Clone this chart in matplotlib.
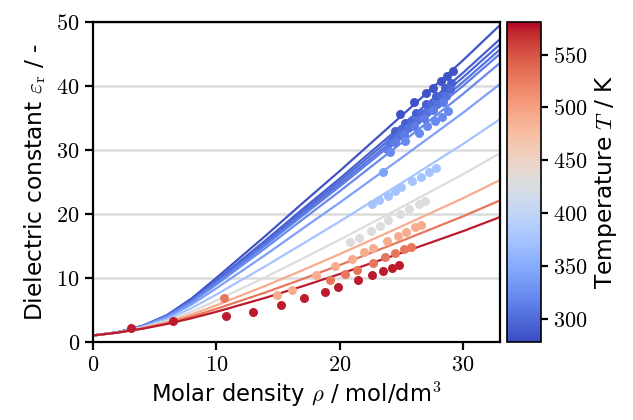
import numpy as np
import matplotlib
matplotlib.use("Agg")
import matplotlib.pyplot as plt
from matplotlib.colors import Normalize
from matplotlib.cm import ScalarMappable

plt.rcParams['mathtext.fontset'] = 'cm'
plt.rcParams['font.family'] = 'DejaVu Sans'

# isotherm temperatures (K)
TEMPS = [283, 290, 297, 305, 312, 322, 340, 375, 430, 490, 530, 575]

# model curves: eps_r at these molar densities
RHO_LINE = [0, 2, 4, 6, 8, 10, 12, 14, 17, 20, 25, 30, 33]
EPS_LINES = [
    [1, 1.50, 2.50, 4.20, 6.80, 10.00, 13.30, 16.60, 21.70, 26.70, 35.30, 44.00, 49.50],
    [1, 1.50, 2.47, 4.10, 6.57, 9.61, 12.75, 15.89, 20.75, 25.52, 33.74, 42.05, 47.31],
    [1, 1.50, 2.46, 4.06, 6.49, 9.47, 12.55, 15.63, 20.40, 25.09, 33.16, 41.33, 46.50],
    [1, 1.49, 2.44, 4.02, 6.41, 9.33, 12.35, 15.37, 20.05, 24.66, 32.58, 40.61, 45.69],
    [1, 1.49, 2.43, 3.99, 6.34, 9.20, 12.18, 15.15, 19.75, 24.29, 32.09, 40.00, 45.00],
    [1, 1.49, 2.41, 3.92, 6.19, 8.96, 11.82, 14.69, 19.14, 23.53, 31.08, 38.74, 43.59],
    [1, 1.48, 2.36, 3.77, 5.85, 8.37, 11.00, 13.62, 17.71, 21.76, 28.73, 35.80, 40.29],
    [1, 1.48, 2.28, 3.51, 5.28, 7.40, 9.63, 11.85, 15.33, 18.81, 24.81, 30.92, 34.80],
    [1, 1.47, 2.20, 3.27, 4.73, 6.46, 8.30, 10.13, 13.03, 15.96, 21.03, 26.19, 29.49],
    [1, 1.46, 2.14, 3.07, 4.30, 5.72, 7.25, 8.77, 11.21, 13.71, 18.03, 22.45, 25.29],
    [1, 1.45, 2.09, 2.92, 3.97, 5.16, 6.45, 7.74, 9.83, 12.00, 15.76, 19.62, 22.11],
    [1, 1.45, 2.05, 2.80, 3.70, 4.70, 5.80, 6.90, 8.70, 10.60, 13.90, 17.30, 19.50],
]

# measurements
RHO_PTS = [
    [24.9, 26.06, 26.98, 27.6, 28.2, 28.7, 29.2],
    [24.5, 25.3, 26.2, 27.0, 27.8, 28.5, 29.0],
    [24.2, 25.0, 25.8, 26.6, 27.4, 28.2, 28.9],
    [24.0, 24.7, 25.5, 26.3, 27.1, 27.9, 28.6],
    [23.8, 24.5, 25.2, 26.0, 26.8, 27.6, 28.4],
    [24.1, 25.3, 26.4, 27.1, 27.7, 28.3, 28.8],
    [23.5],
    [22.6, 23.2, 23.9, 24.5, 25.0, 25.9, 26.6, 27.2, 27.8],
    [20.8, 21.6, 22.5, 23.3, 23.9, 24.85, 25.65, 26.4, 26.95],
    [14.9, 16.1, 18.1, 19.6, 21.0, 22.0, 22.7, 23.8, 24.7, 25.4, 26.1, 26.6],
    [10.65, 19.2, 20.4, 21.4, 22.7, 23.7, 24.5, 25.2, 25.8],
    [3.1, 6.5, 10.8, 13.0, 15.2, 17.1, 18.8, 19.9, 21.5, 22.6, 23.5, 24.2, 24.8],
]
EPS_PTS = [
    [35.6, 37.45, 38.9, 39.7, 40.8, 41.6, 42.3],
    [32.9, 34.2, 35.7, 37.1, 38.4, 39.6, 40.4],
    [31.8, 33.2, 34.5, 35.8, 37.1, 38.4, 39.5],
    [31.0, 32.1, 33.4, 34.7, 35.9, 37.2, 38.4],
    [30.2, 31.3, 32.4, 33.7, 34.9, 36.2, 37.5],
    [29.6, 31.4, 32.6, 33.7, 34.5, 35.2, 36.1],
    [26.5],
    [21.5, 22.1, 22.8, 23.5, 24.2, 25.1, 25.8, 26.6, 27.2],
    [15.6, 16.3, 17.3, 18.1, 19.0, 20.0, 20.8, 21.6, 22.0],
    [7.3, 8.1, 10.5, 11.8, 13.0, 14.0, 14.6, 15.7, 16.6, 17.2, 17.9, 18.3],
    [6.8, 9.6, 10.55, 11.3, 12.4, 13.2, 13.85, 14.5, 14.9],
    [2.2, 3.2, 4.1, 4.7, 5.8, 6.8, 7.8, 8.6, 9.6, 10.4, 11.1, 11.6, 12.0],
]

T_MIN, T_MAX = 278, 581

fig = plt.figure(figsize=(6.33, 4.2), dpi=100)
ax = fig.add_axes([0.147, 0.186, 0.643, 0.762])
cax = fig.add_axes([0.801, 0.186, 0.054, 0.762])

cmap = plt.get_cmap('coolwarm')
norm = Normalize(T_MIN, T_MAX)

for i in range(len(TEMPS)):
    c = cmap(norm(TEMPS[i]))
    ax.plot(RHO_LINE, EPS_LINES[i], color=c, lw=1.6, zorder=2)
    ax.scatter(RHO_PTS[i], EPS_PTS[i], color=c, s=42, lw=0, zorder=3)

ax.set_xlim(0, 33)
ax.set_ylim(0, 50)
ax.set_xticks([0, 10, 20, 30])
ax.set_yticks([0, 10, 20, 30, 40, 50])
ax.set_xticklabels(['$%d$' % v for v in [0, 10, 20, 30]])
ax.set_yticklabels(['$%d$' % v for v in [0, 10, 20, 30, 40, 50]])
ax.yaxis.grid(True, color='#dcdcdc', lw=1.8, zorder=0)
ax.set_axisbelow(True)
for s in ax.spines.values():
    s.set_linewidth(1.6)
ax.tick_params(width=1.6, length=6, labelsize=16, direction='out')
ax.set_xlabel(r'Molar density $\rho$ / mol/dm$^3$', fontsize=16.3)
ax.set_ylabel(r'Dielectric constant $\varepsilon_\mathrm{r}$ / -', fontsize=16.8, labelpad=6)

sm = ScalarMappable(norm=norm, cmap=cmap)
cb = fig.colorbar(sm, cax=cax)
cb.set_ticks([300, 350, 400, 450, 500, 550])
cb.set_ticklabels(['$%d$' % v for v in [300, 350, 400, 450, 500, 550]])
cb.outline.set_linewidth(1.2)
cax.tick_params(width=1.6, length=5, labelsize=16)
cb.set_label(r'Temperature $T$ / K', fontsize=16.8)

fig.savefig('out.png', dpi=100)
